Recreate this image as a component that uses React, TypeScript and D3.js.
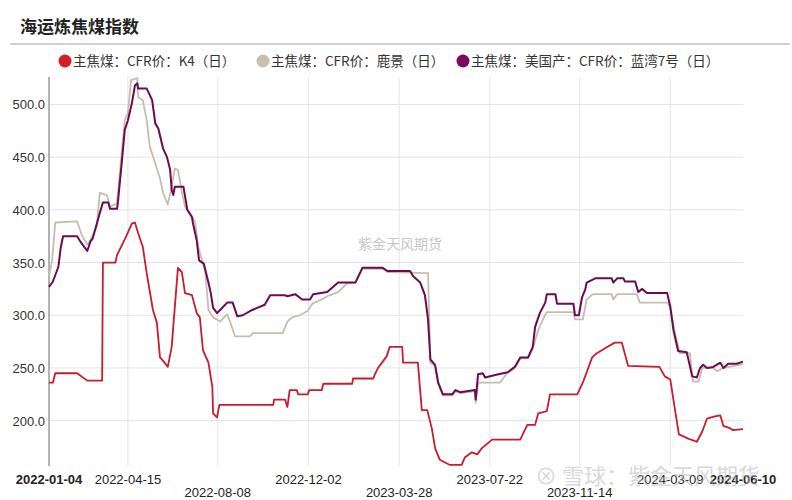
import React, { useEffect, useRef } from 'react';
import * as d3 from 'd3';

// series names
const seriesNames = [
  '主焦煤：CFR价：K4（日）',
  '主焦煤：CFR价：鹿景（日）',
  '主焦煤：美国产：CFR价：蓝湾7号（日）',
];
const seriesColors = ['#c81d2c', '#c7bdae', '#6a0c4f'];
const legendColors = ['#d41f26', '#c9bfb0', '#7a0a5b'];

// K4
const k4: [string, number][] = [
  ['2022-01-04', 236], ['2022-01-09', 236], ['2022-01-12', 245], ['2022-02-09', 245],
  ['2022-02-22', 238], ['2022-03-13', 238], ['2022-03-14', 350], ['2022-03-30', 350],
  ['2022-04-01', 357], ['2022-04-07', 366], ['2022-04-11', 372], ['2022-04-20', 387],
  ['2022-04-24', 388], ['2022-04-28', 378], ['2022-05-04', 365], ['2022-05-09', 340],
  ['2022-05-17', 305], ['2022-05-22', 293], ['2022-05-26', 260], ['2022-06-01', 255],
  ['2022-06-05', 251], ['2022-06-10', 270], ['2022-06-14', 308], ['2022-06-18', 345],
  ['2022-06-23', 341], ['2022-06-27', 321], ['2022-07-06', 319], ['2022-07-12', 302],
  ['2022-07-16', 298], ['2022-07-20', 267], ['2022-07-27', 255], ['2022-08-01', 232],
  ['2022-08-02', 207], ['2022-08-07', 203], ['2022-08-10', 215], ['2022-10-18', 215],
  ['2022-10-19', 220], ['2022-11-02', 220], ['2022-11-05', 213], ['2022-11-08', 229],
  ['2022-11-17', 229], ['2022-11-19', 225], ['2022-12-01', 225], ['2022-12-03', 229],
  ['2022-12-19', 229], ['2022-12-21', 235], ['2023-01-27', 235], ['2023-01-28', 240],
  ['2023-02-23', 240], ['2023-02-25', 244], ['2023-03-01', 250], ['2023-03-12', 261],
  ['2023-03-16', 270], ['2023-04-01', 270], ['2023-04-02', 255], ['2023-04-21', 255],
  ['2023-04-26', 210], ['2023-05-03', 210], ['2023-05-09', 192], ['2023-05-13', 174],
  ['2023-05-19', 163], ['2023-06-01', 158], ['2023-06-16', 158], ['2023-06-20', 165],
  ['2023-06-29', 170], ['2023-07-06', 168], ['2023-07-12', 174], ['2023-07-25', 182],
  ['2023-08-30', 182], ['2023-09-08', 196], ['2023-09-18', 196], ['2023-09-22', 207],
  ['2023-10-03', 209], ['2023-10-07', 225], ['2023-11-11', 225], ['2023-11-18', 236],
  ['2023-11-30', 260], ['2023-12-06', 264], ['2023-12-17', 269], ['2023-12-29', 274],
  ['2024-01-07', 274], ['2024-01-15', 252], ['2024-02-24', 251], ['2024-03-02', 242],
  ['2024-03-09', 239], ['2024-03-14', 215], ['2024-03-20', 187], ['2024-04-01', 183],
  ['2024-04-12', 180], ['2024-04-19', 190], ['2024-04-25', 202], ['2024-05-05', 204],
  ['2024-05-12', 205], ['2024-05-16', 195], ['2024-05-24', 193], ['2024-05-28', 191],
  ['2024-06-10', 192],
];

// 鹿景
const lukes: [string, number][] = [
  ['2022-01-04', 337], ['2022-01-08', 352], ['2022-01-12', 388], ['2022-02-09', 389],
  ['2022-02-15', 376], ['2022-02-22', 367], ['2022-02-26', 371], ['2022-03-06', 384],
  ['2022-03-10', 416], ['2022-03-19', 414], ['2022-03-23', 403], ['2022-04-01', 406],
  ['2022-04-07', 454], ['2022-04-11', 485], ['2022-04-15', 492], ['2022-04-19', 523],
  ['2022-04-27', 525], ['2022-04-28', 507], ['2022-05-04', 504], ['2022-05-09', 485],
  ['2022-05-13', 460], ['2022-05-20', 444], ['2022-05-26', 430], ['2022-05-30', 416],
  ['2022-06-05', 405], ['2022-06-10', 422], ['2022-06-14', 439], ['2022-06-18', 438],
  ['2022-06-23', 417], ['2022-06-27', 403], ['2022-07-06', 394], ['2022-07-10', 388],
  ['2022-07-14', 365], ['2022-07-23', 341], ['2022-07-27', 305], ['2022-08-02', 298],
  ['2022-08-11', 294], ['2022-08-20', 301], ['2022-08-24', 293], ['2022-08-30', 280],
  ['2022-09-18', 280], ['2022-09-22', 283], ['2022-10-30', 283], ['2022-11-05', 294],
  ['2022-11-11', 298], ['2022-11-21', 300], ['2022-12-01', 304], ['2022-12-07', 311],
  ['2022-12-19', 315], ['2022-12-26', 318], ['2023-01-09', 322], ['2023-01-20', 330],
  ['2023-01-31', 331], ['2023-02-09', 344], ['2023-03-07', 344], ['2023-03-13', 341],
  ['2023-05-04', 340], ['2023-05-07', 255], ['2023-05-13', 252], ['2023-05-17', 235],
  ['2023-05-23', 224], ['2023-06-04', 224], ['2023-06-08', 228], ['2023-06-14', 226],
  ['2023-07-03', 228], ['2023-07-04', 217], ['2023-07-07', 236], ['2023-08-04', 236],
  ['2023-08-13', 245], ['2023-08-23', 250], ['2023-08-30', 259], ['2023-09-09', 259],
  ['2023-09-15', 268], ['2023-09-22', 286], ['2023-09-28', 296], ['2023-10-03', 303],
  ['2023-11-06', 303], ['2023-11-08', 296], ['2023-11-18', 296], ['2023-11-23', 315],
  ['2023-12-01', 320], ['2023-12-25', 320], ['2023-12-27', 315], ['2024-01-01', 320],
  ['2024-01-26', 320], ['2024-01-30', 312], ['2024-03-05', 312], ['2024-03-09', 307],
  ['2024-03-15', 283], ['2024-03-21', 264], ['2024-04-03', 264], ['2024-04-07', 237],
  ['2024-04-14', 237], ['2024-04-19', 250], ['2024-05-03', 250], ['2024-05-08', 247],
  ['2024-05-16', 250], ['2024-06-06', 253], ['2024-06-10', 254],
];

// 蓝湾7号
const blueBay: [string, number][] = [
  ['2022-01-04', 327], ['2022-01-09', 332], ['2022-01-16', 346], ['2022-01-19', 364],
  ['2022-01-22', 375], ['2022-02-09', 375], ['2022-02-13', 370], ['2022-02-19', 364],
  ['2022-02-22', 361], ['2022-02-26', 370], ['2022-03-01', 373], ['2022-03-10', 397],
  ['2022-03-14', 407], ['2022-03-21', 407], ['2022-03-23', 401], ['2022-04-01', 401],
  ['2022-04-02', 406], ['2022-04-07', 444], ['2022-04-11', 476], ['2022-04-15', 485],
  ['2022-04-20', 501], ['2022-04-24', 518], ['2022-04-27', 520], ['2022-04-28', 515],
  ['2022-05-09', 515], ['2022-05-16', 504], ['2022-05-20', 482], ['2022-05-24', 477],
  ['2022-05-30', 458], ['2022-06-04', 450], ['2022-06-08', 438], ['2022-06-10', 419],
  ['2022-06-12', 414], ['2022-06-14', 422], ['2022-06-25', 422], ['2022-06-30', 400],
  ['2022-07-06', 393], ['2022-07-07', 388], ['2022-07-12', 371], ['2022-07-15', 352],
  ['2022-07-21', 349], ['2022-07-27', 331], ['2022-07-30', 321], ['2022-08-02', 307],
  ['2022-08-07', 302], ['2022-08-11', 305], ['2022-08-20', 312], ['2022-08-27', 312],
  ['2022-09-02', 299], ['2022-09-09', 300], ['2022-09-21', 305], ['2022-10-07', 310],
  ['2022-10-14', 319], ['2022-11-02', 319], ['2022-11-05', 318], ['2022-11-15', 320],
  ['2022-11-24', 315], ['2022-12-04', 315], ['2022-12-08', 320], ['2022-12-26', 322],
  ['2023-01-09', 331], ['2023-01-31', 331], ['2023-02-09', 345], ['2023-03-07', 345],
  ['2023-03-13', 342], ['2023-04-11', 342], ['2023-04-15', 337], ['2023-04-24', 331],
  ['2023-04-30', 319], ['2023-05-04', 296], ['2023-05-07', 258], ['2023-05-13', 253],
  ['2023-05-17', 236], ['2023-05-23', 225], ['2023-06-04', 225], ['2023-06-08', 229],
  ['2023-06-14', 227], ['2023-07-03', 229], ['2023-07-04', 220], ['2023-07-07', 244],
  ['2023-07-13', 245], ['2023-07-16', 241], ['2023-08-02', 244], ['2023-08-14', 246],
  ['2023-08-23', 251], ['2023-08-30', 260], ['2023-09-09', 260], ['2023-09-15', 270],
  ['2023-09-18', 289], ['2023-09-24', 302], ['2023-10-01', 312], ['2023-10-03', 320],
  ['2023-10-14', 320], ['2023-10-16', 311], ['2023-11-06', 311], ['2023-11-08', 300],
  ['2023-11-13', 300], ['2023-11-17', 317], ['2023-11-21', 324], ['2023-11-23', 331],
  ['2023-12-04', 335], ['2023-12-25', 335], ['2023-12-27', 331], ['2024-01-01', 335],
  ['2024-01-09', 335], ['2024-01-11', 332], ['2024-01-24', 332], ['2024-01-28', 322],
  ['2024-02-02', 325], ['2024-02-08', 321], ['2024-03-05', 321], ['2024-03-09', 308],
  ['2024-03-13', 286], ['2024-03-19', 266], ['2024-03-30', 265], ['2024-04-06', 242],
  ['2024-04-12', 241], ['2024-04-16', 250], ['2024-04-20', 253], ['2024-04-25', 250],
  ['2024-05-03', 251], ['2024-05-12', 255], ['2024-05-16', 250], ['2024-05-22', 254],
  ['2024-06-02', 254], ['2024-06-10', 256],
];

const xTickDates = [
  '2022-01-04', '2022-04-15', '2022-08-08', '2022-12-02', '2023-03-28',
  '2023-07-22', '2023-11-14', '2024-03-09', '2024-06-10',
];
const yTicks = [200, 250, 300, 350, 400, 450, 500];

function App() {
  const ref = useRef<SVGSVGElement>(null);

  useEffect(() => {
    if (!ref.current) return;
    const svg = d3.select(ref.current);
    svg.selectAll('*').remove();

    const parse = d3.timeParse('%Y-%m-%d');
    const font = "'Liberation Sans', Arial, sans-serif";
    const left = 49, right = 743, top = 77, bottom = 466;

    const x = d3.scaleTime()
      .domain([parse('2022-01-04')!, parse('2024-06-10')!])
      .range([left, right]);
    const y = d3.scaleLinear().domain([157, 526]).range([bottom, top]);

    // title
    svg.append('text')
      .attr('x', 20).attr('y', 33)
      .attr('font-family', "'Noto Sans CJK SC', sans-serif")
      .attr('font-weight', 'bold')
      .attr('font-size', 17)
      .attr('fill', '#222')
      .text('海运炼焦煤指数');
    svg.append('line')
      .attr('x1', 10).attr('x2', 790).attr('y1', 44).attr('y2', 44)
      .attr('stroke', '#d0d0d0').attr('stroke-width', 2);

    // legend
    const legendX = [65, 263, 463];
    seriesNames.forEach((name, i) => {
      svg.append('circle')
        .attr('cx', legendX[i]).attr('cy', 61).attr('r', 6.5)
        .attr('fill', legendColors[i]);
      svg.append('text')
        .attr('x', legendX[i] + 8).attr('y', 66)
        .attr('font-family', "'Noto Sans CJK SC', sans-serif")
        .attr('font-size', 13.5)
        .attr('fill', '#333')
        .text(name);
    });

    // grid
    const grid = svg.append('g');
    yTicks.forEach((t) => {
      grid.append('line')
        .attr('x1', left).attr('x2', right)
        .attr('y1', y(t)).attr('y2', y(t))
        .attr('stroke', '#e4e4e4');
    });
    xTickDates.slice(1, -1).forEach((t) => {
      const xx = x(parse(t)!);
      grid.append('line')
        .attr('x1', xx).attr('x2', xx)
        .attr('y1', top).attr('y2', bottom)
        .attr('stroke', '#e4e4e4');
    });

    // watermark
    svg.append('text')
      .attr('x', 400).attr('y', 249)
      .attr('text-anchor', 'middle')
      .attr('font-family', "'Noto Sans CJK SC', sans-serif")
      .attr('font-size', 14)
      .attr('fill', '#c8c8c8')
      .text('紫金天风期货');

    // y axis
    svg.append('line')
      .attr('x1', left).attr('x2', left).attr('y1', top).attr('y2', bottom)
      .attr('stroke', '#999').attr('stroke-width', 1.5);
    yTicks.forEach((t) => {
      svg.append('text')
        .attr('x', 45).attr('y', y(t) + 5)
        .attr('text-anchor', 'end')
        .attr('font-family', font)
        .attr('font-size', 13)
        .attr('fill', '#333')
        .text(t.toFixed(1));
    });

    // x labels
    xTickDates.forEach((t, i) => {
      const bold = i === 0 || i === xTickDates.length - 1;
      const lower = i === 2 || i === 4 || i === 6;
      svg.append('text')
        .attr('x', x(parse(t)!))
        .attr('y', lower ? 497 : 484)
        .attr('text-anchor', 'middle')
        .attr('font-family', font)
        .attr('font-size', 13)
        .attr('font-weight', bold ? 'bold' : 'normal')
        .attr('fill', '#222')
        .text(t);
    });

    // lines
    const line = d3.line<[string, number]>()
      .x((d) => x(parse(d[0])!))
      .y((d) => y(d[1]))
      .curve(d3.curveLinear);
    [k4, lukes, blueBay].forEach((data, i) => {
      svg.append('path')
        .datum(data)
        .attr('d', line)
        .attr('fill', 'none')
        .attr('stroke', seriesColors[i])
        .attr('stroke-width', i === 2 ? 2 : 1.8)
        .attr('stroke-linejoin', 'round');
    });

    // bottom watermark
    svg.append('text')
      .attr('x', 535).attr('y', 484)
      .attr('font-family', "'Noto Sans CJK SC', sans-serif")
      .attr('font-size', 22)
      .attr('fill', '#bbb')
      .attr('opacity', 0.55)
      .text('⊗ 雪球：紫金天风期货');
  }, []);

  return (
    <svg
      ref={ref}
      width={792}
      height={500}
      style={{ position: 'absolute', left: 0, top: 0, background: '#fff' }}
    />
  );
}

export default App;
